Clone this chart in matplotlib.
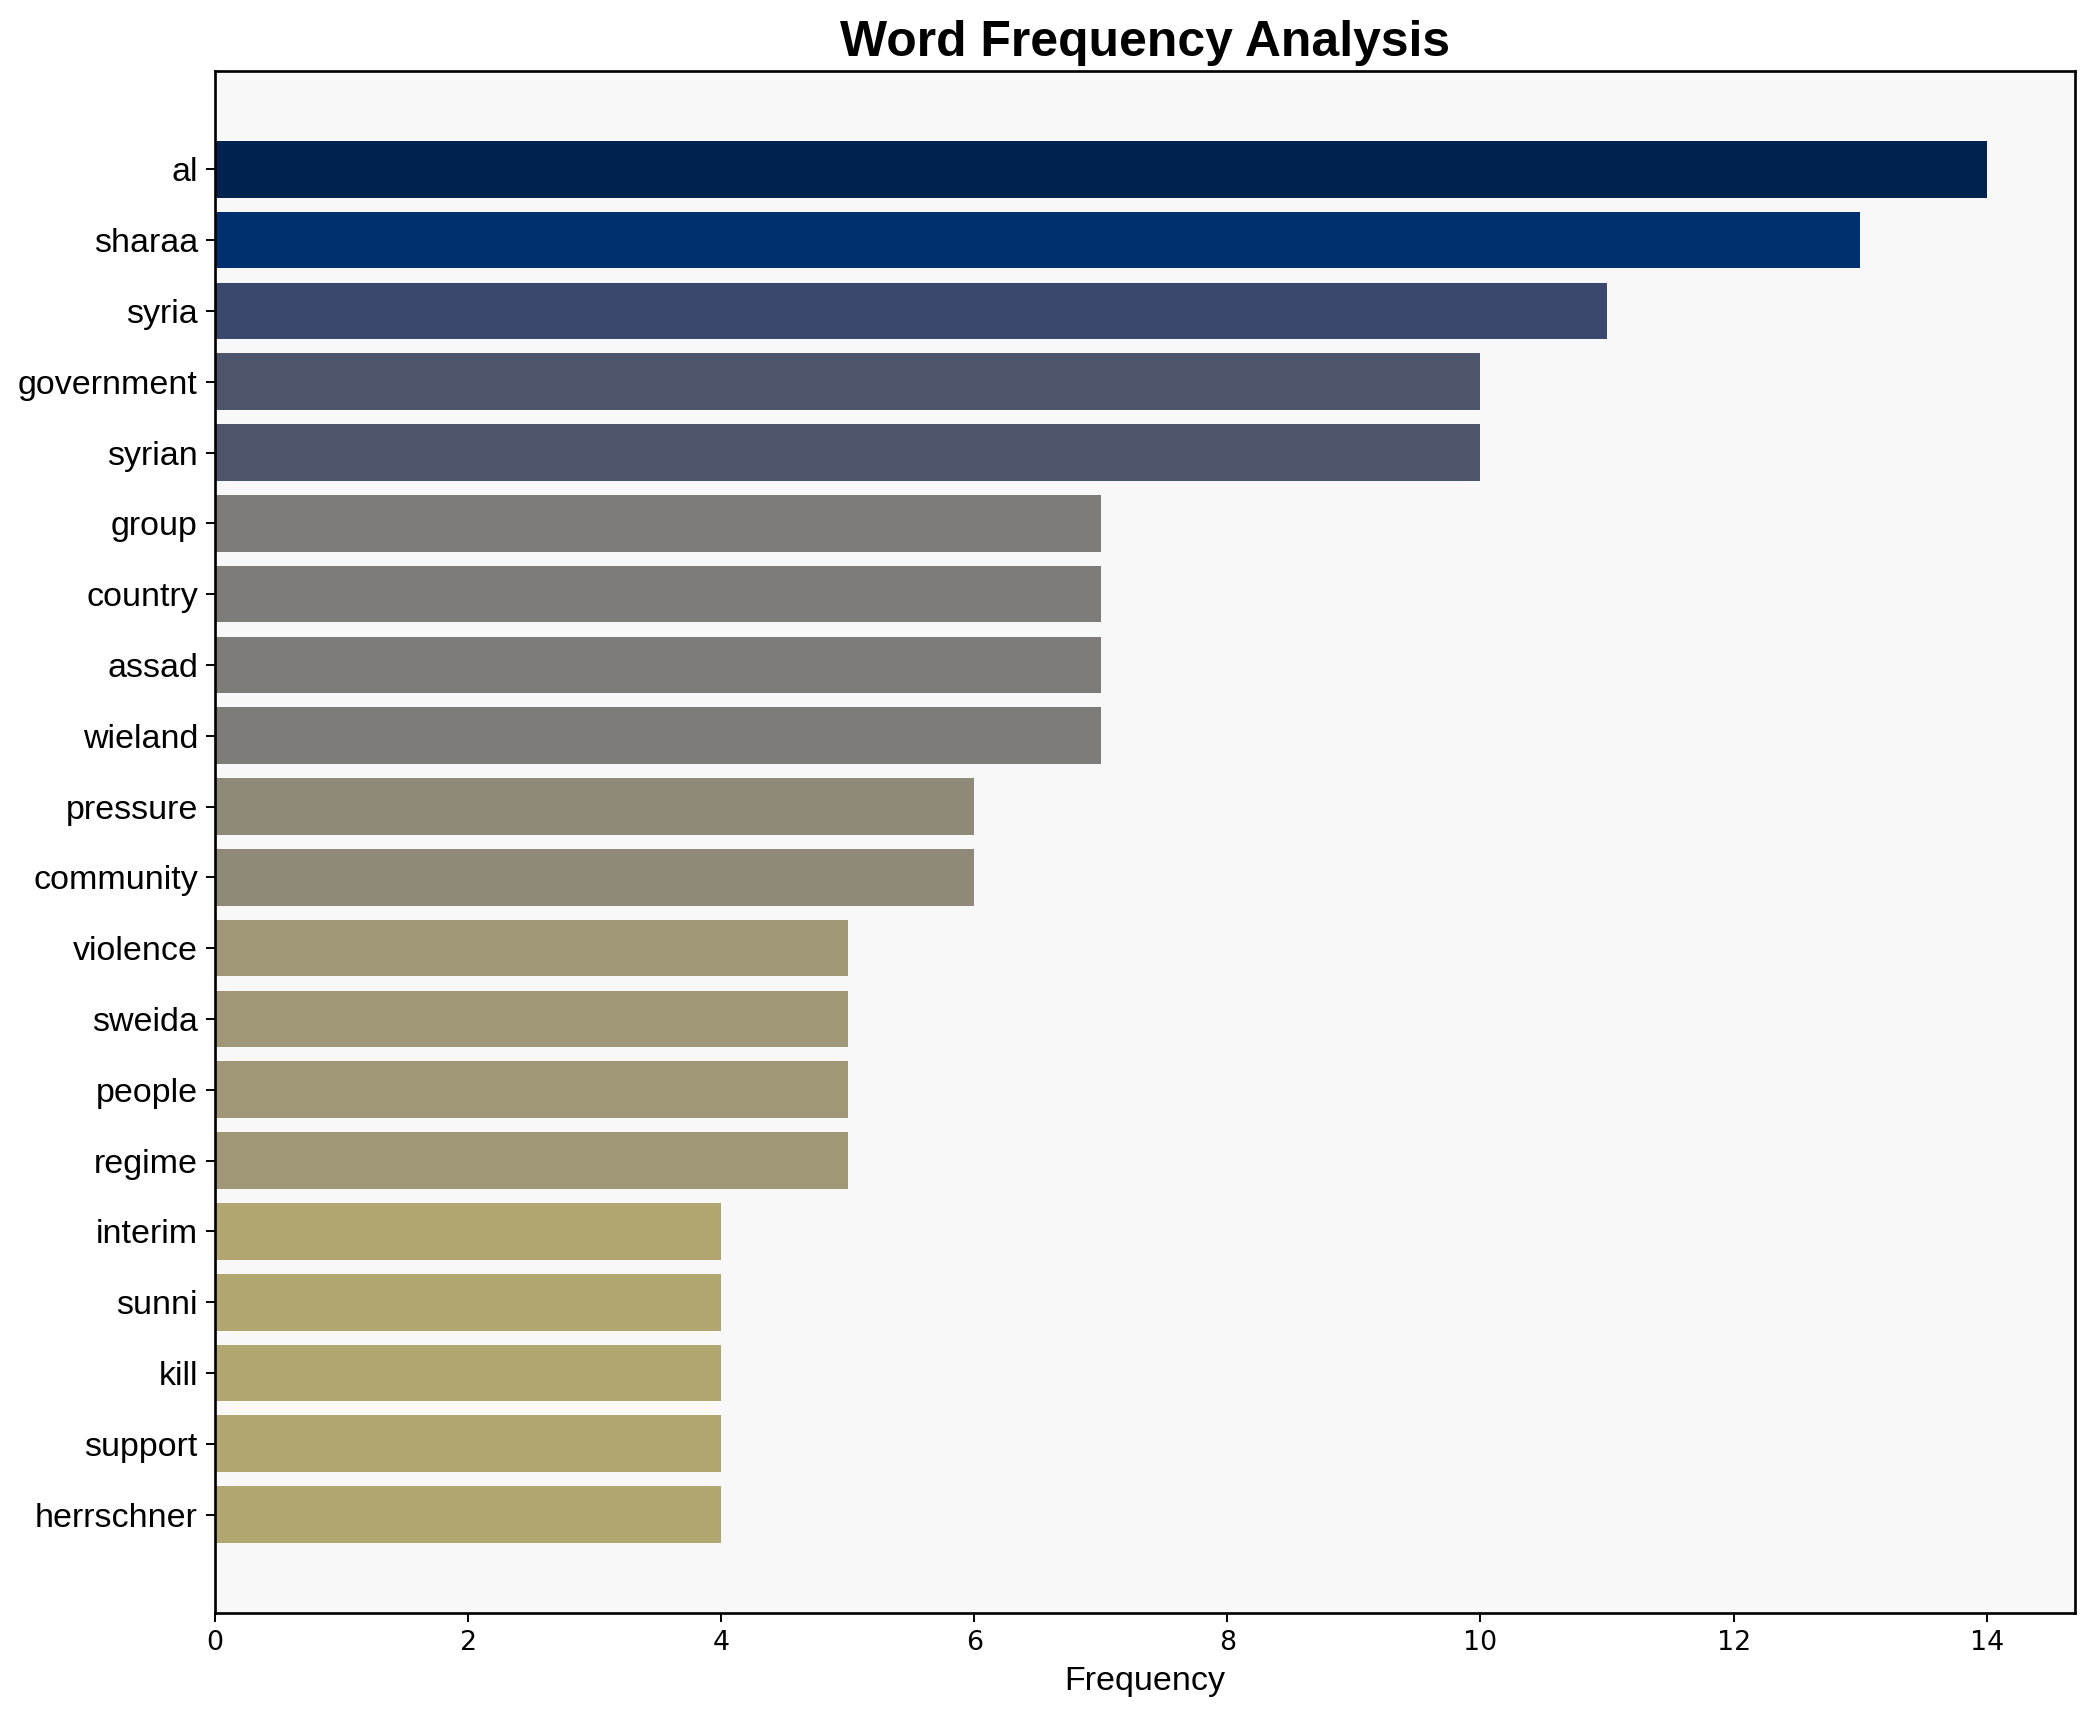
import matplotlib
matplotlib.use('Agg')
import matplotlib.pyplot as plt
import numpy as np

# mots et frequences
mots = ['al', 'sharaa', 'syria', 'government', 'syrian', 'group', 'country',
        'assad', 'wieland', 'pressure', 'community', 'violence', 'sweida',
        'people', 'regime', 'interim', 'sunni', 'kill', 'support', 'herrschner']
frequences = [14, 13, 11, 10, 10, 7, 7, 7, 7, 6, 6, 5, 5, 5, 5, 4, 4, 4, 4, 4]

plt.rcParams['font.family'] = ['Liberation Sans', 'DejaVu Sans']

fig = plt.figure(figsize=(2095 / 175, 1722 / 175), dpi=175)
ax = fig.add_axes([0.1026, 0.0633, 0.888, 0.8955])
ax.set_facecolor('#f8f8f8')

freq = np.array(frequences)
couleurs = plt.cm.cividis(1 - freq / freq.max())
y = np.arange(len(mots))
ax.barh(y, freq, color=couleurs, height=0.8)
ax.set_yticks(y)
ax.set_yticklabels(mots, fontsize=14)
ax.invert_yaxis()
ax.tick_params(axis='x', labelsize=11)
for t in ax.get_xticklabels():
    t.set_family('DejaVu Sans')
ax.set_xlabel('Frequency', fontsize=14)
ax.set_title('Word Frequency Analysis', fontsize=20.5, fontweight='bold')
for s in ax.spines.values():
    s.set_linewidth(1.1)

fig.savefig('out.png', dpi=175)
